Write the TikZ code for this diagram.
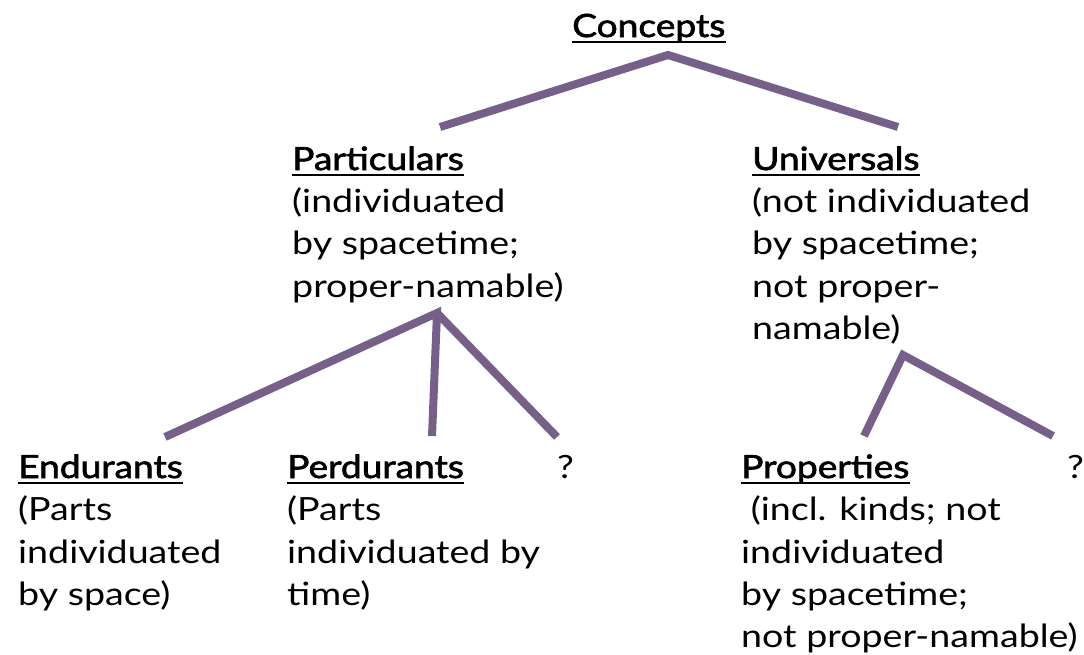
\documentclass[tikz,border=0pt]{standalone}
\usepackage{fontspec}
\setmainfont{Lato}[FakeStretch=1.175]
\newfontfamily\hdrfont{Lato}[FakeBold=2,FakeStretch=1.16]
\definecolor{treepurple}{RGB}{118,96,138}
\begin{document}
\begin{tikzpicture}[x=1pt,y=-1pt,
  txt/.style={anchor=base west,inner sep=0pt,font=\fontsize{32}{36}\selectfont},
  hdr/.style={txt,font=\fontsize{32}{36}\selectfont\hdrfont},
  uline/.style={line width=1.6pt,black},
  branch/.style={line width=8pt,treepurple}]
\useasboundingbox (0,0) rectangle (1084,654);
% headers
\node[hdr] (concepts) at (572,37) {Concepts};
\node[hdr] (part) at (292,170) {Particulars};
\node[hdr] (univ) at (752,170) {Universals};
\node[hdr] (endu) at (18,478) {Endurants};
\node[hdr] (perd) at (287,478) {Perdurants};
\node[txt] (q1) at (557,478) {?};
\node[hdr] (prop) at (741,478) {Properties};
\node[txt] (q2) at (1067,478) {?};
\foreach \n in {concepts,part,univ,endu,perd,prop}
  \draw[uline] ([yshift=-5pt]\n.base west) -- ([yshift=-5pt]\n.base east);
% Particulars text
\node[txt] (p1) at (292,212) {(individuated};
\node[txt] (p2) at (292,254) {by spacetime;};
\node[txt] (p3) at (292,297) {proper-namable)};
% Universals text
\node[txt] (u1) at (752,212) {(not individuated};
\node[txt] (u2) at (752,254) {by spacetime;};
\node[txt] (u3) at (752,297) {not proper-};
\node[txt] (u4) at (752,339) {namable)};
% Endurants text
\node[txt] (e1) at (18,520) {(Parts};
\node[txt] (e2) at (18,563) {individuated};
\node[txt] (e3) at (18,605) {by space)};
% Perdurants text
\node[txt] (d1) at (287,520) {(Parts};
\node[txt] (d2) at (287,563) {individuated by};
\node[txt] (d3) at (287,605) {time)};
% Properties text
\node[txt] (r1) at (741,520) {\ (incl. kinds; not};
\node[txt] (r2) at (741,563) {individuated};
\node[txt] (r3) at (741,605) {by spacetime;};
\node[txt] (r4) at (741,647) {not proper-namable)};
% branch points
\coordinate (cA) at (668,55);
\coordinate (cL) at (440,127);
\coordinate (cR) at (898,127);
\coordinate (pA) at (437,313);
\coordinate (pL) at (165,437);
\coordinate (pM) at (432,436);
\coordinate (pR) at (557,437);
\coordinate (uA) at (903,355);
\coordinate (uL) at (864,436);
\coordinate (uR) at (1053,436);
\draw[branch] (cL) -- (cA) -- (cR);
\draw[branch] (pL) -- (pA) -- (pM);
\draw[branch] (pA) -- (pR);
\draw[branch] (uL) -- (uA) -- (uR);
\end{tikzpicture}
\end{document}
